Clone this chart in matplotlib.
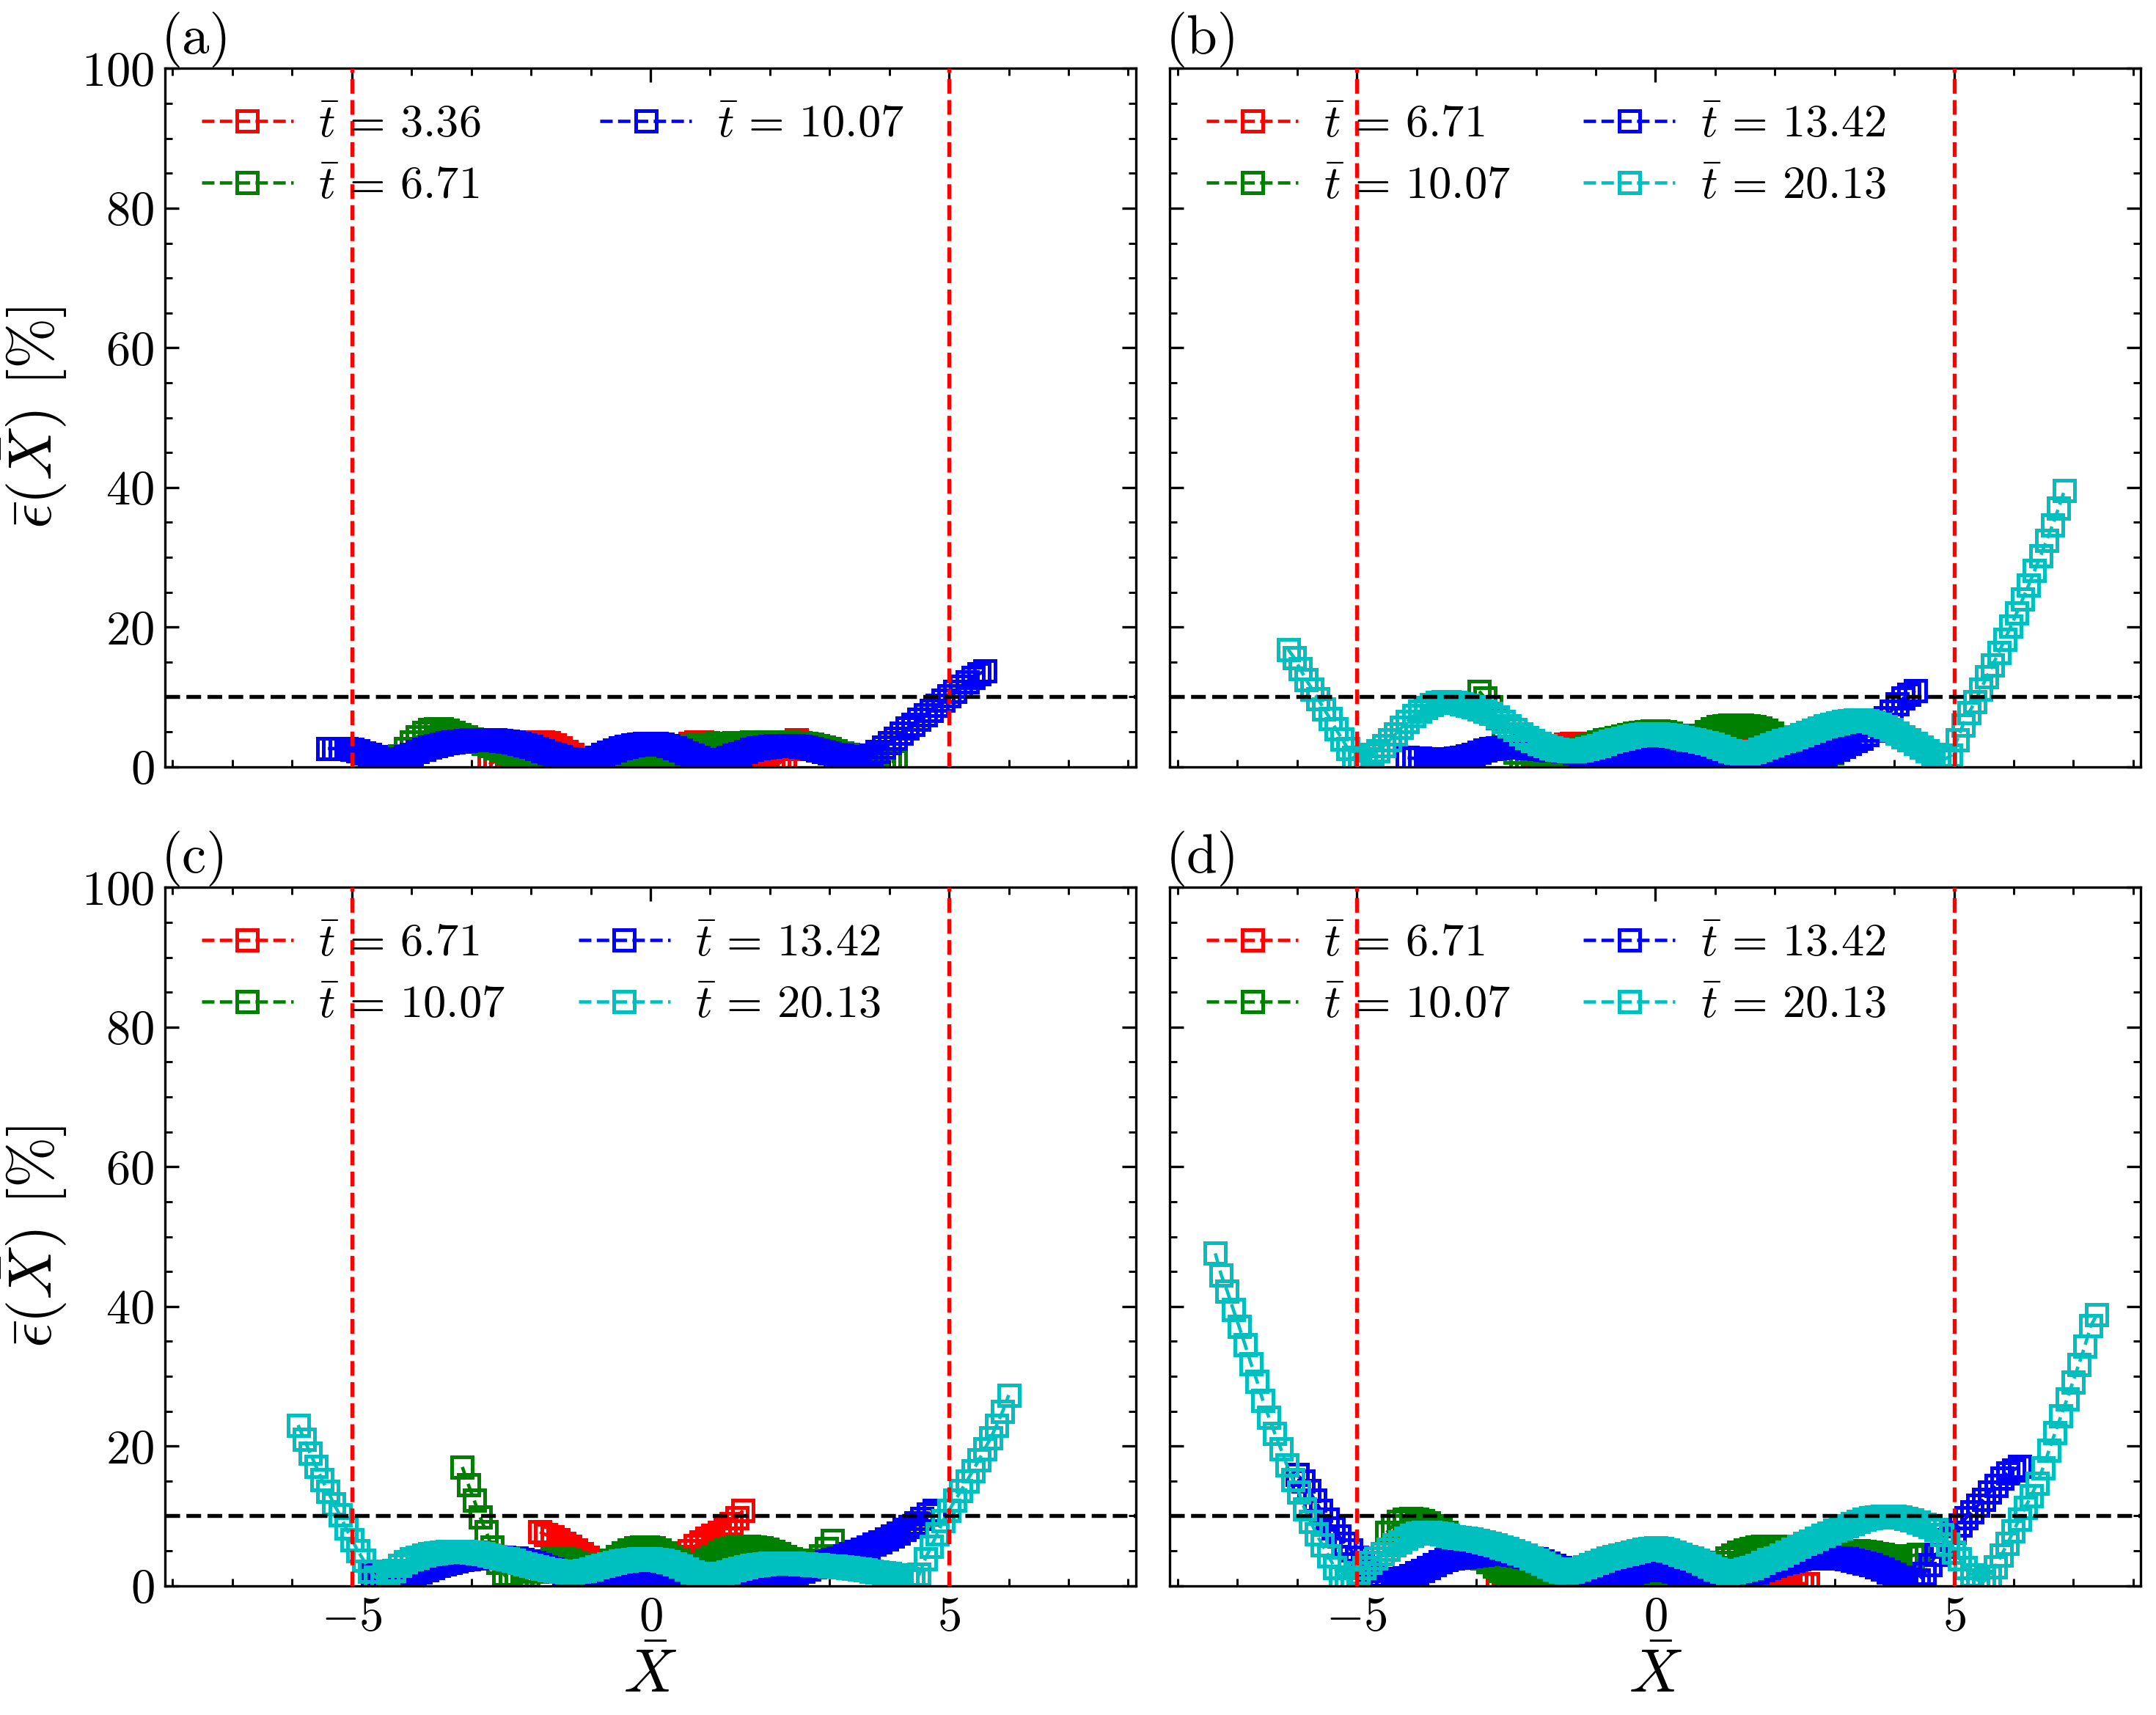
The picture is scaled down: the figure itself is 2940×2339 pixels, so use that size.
import numpy as np
import matplotlib
matplotlib.use("Agg")
import matplotlib.pyplot as plt
from matplotlib.ticker import MultipleLocator

# ---- data (x range of each series + error values in %)
COLORS = ["r", "g", "b", "c"]

A_LABELS = [r"$\bar{t}\,=\,3.36$", r"$\bar{t}\,=\,6.71$", r"$\bar{t}\,=\,10.07$"]
BCD_LABELS = [r"$\bar{t}\,=\,6.71$", r"$\bar{t}\,=\,10.07$",
              r"$\bar{t}\,=\,13.42$", r"$\bar{t}\,=\,20.13$"]

# panel (a)
A_RED_X = (-2.7, 2.45)
A_RED = [0.3, 0.8, 1.3, 1.8, 2.3, 2.7, 3.0, 3.3, 3.5, 3.5, 3.4, 3.1, 2.7, 2.2,
         1.7, 1.2, 0.8, 0.4, 0.2, 0.1, 0.2, 0.3, 0.4, 0.5, 0.5, 0.4, 0.3, 0.2,
         0.4, 0.9, 1.5, 2.1, 2.6, 3.0, 3.3, 3.5, 3.5, 3.4, 3.2, 2.9, 2.5, 2.1,
         1.7, 1.3, 0.9, 0.6, 0.4, 0.3, 0.3, 0.5, 1.2, 2.6, 3.9]
A_GREEN_X = (-4.2, 4.1)
A_GREEN = [1.5, 2.6, 3.5, 4.3, 4.9, 5.3, 5.4, 5.4, 5.2, 4.9, 4.6, 4.3, 4.0, 3.6,
           3.3, 3.0, 2.7, 2.4, 2.1, 1.8, 1.5, 1.3, 1.1, 0.9, 0.7, 0.5, 0.4, 0.3,
           0.2, 0.1, 0.2, 0.3, 0.4, 0.5, 0.5, 0.5, 0.5, 0.4, 0.4, 0.3, 0.3, 0.2,
           0.2, 0.3, 0.8, 1.4, 2.0, 2.5, 2.8, 3.0, 3.1, 3.2, 3.2, 3.3, 3.3, 3.3,
           3.4, 3.4, 3.4, 3.5, 3.5, 3.5, 3.5, 3.5, 3.5, 3.5, 3.4, 3.4, 3.3, 3.2,
           3.0, 2.8, 2.6, 2.3, 2.0, 1.7, 1.4, 1.1, 0.9, 0.7, 0.6, 0.6, 0.7, 0.8]
A_BLUE_X = (-5.4, 5.6)
A_BLUE = [2.6, 2.6, 2.6, 2.6, 2.5, 2.3, 2.0, 1.7, 1.4, 1.1, 0.9, 0.9, 1.1, 1.4,
          1.8, 2.2, 2.5, 2.8, 3.0, 3.2, 3.4, 3.5, 3.6, 3.7, 3.8, 3.8, 3.8, 3.8,
          3.8, 3.7, 3.6, 3.5, 3.3, 3.1, 2.9, 2.6, 2.3, 2.0, 1.7, 1.4, 1.1, 0.9,
          0.8, 0.8, 1.0, 1.3, 1.7, 2.1, 2.4, 2.7, 2.9, 3.1, 3.2, 3.3, 3.3, 3.3,
          3.2, 3.0, 2.7, 2.4, 2.0, 1.6, 1.3, 1.0, 0.8, 0.8, 1.0, 1.3, 1.6, 1.9,
          2.2, 2.5, 2.7, 2.8, 2.9, 3.0, 3.0, 3.0, 3.0, 2.9, 2.8, 2.6, 2.4, 2.2,
          2.0, 1.8, 1.6, 1.4, 1.3, 1.2, 1.2, 1.6, 2.2, 2.8, 3.4, 4.1, 4.8, 5.5,
          6.1, 6.8, 7.4, 8.1, 8.8, 9.5, 10.2, 10.8, 11.5, 12.2, 12.8, 13.3, 13.7]

# panel (b)
B_RED_X = (-2.0, 2.0)
B_RED = [0.8, 1.4, 2.0, 2.5, 2.9, 3.2, 3.3, 3.3, 3.2, 2.9, 2.5, 2.1, 1.7, 1.3,
         0.9, 0.6, 0.4, 0.2, 0.1, 0.1, 0.1, 0.1, 0.2, 0.3, 0.5, 0.8, 1.2, 1.6,
         2.0, 2.4, 2.8, 3.1, 3.3, 3.4, 3.4, 3.3, 3.0, 2.6, 2.1, 1.6, 1.1]
B_GREEN_X = (-2.95, 2.95)
B_GREEN = [10.8, 9.8, 8.6, 7.0, 5.3, 3.6, 2.1, 1.0, 0.5, 0.4, 0.5, 0.7, 1.0, 1.3,
           1.6, 2.0, 2.3, 2.6, 2.9, 3.2, 3.5, 3.8, 4.0, 4.2, 4.4, 4.6, 4.8, 4.9,
           5.0, 5.1, 5.1, 5.0, 4.8, 4.5, 4.2, 4.0, 4.1, 4.5, 5.0, 5.4, 5.7, 5.9,
           6.0, 6.0, 6.0, 5.9, 5.7, 5.5, 5.2, 4.8, 4.3, 3.8, 3.3, 2.9, 2.5, 2.2,
           2.0, 1.9, 1.9, 2.0]
B_BLUE_X = (-4.15, 4.35)
B_BLUE = [1.3, 1.2, 1.2, 1.1, 1.1, 1.1, 1.1, 1.1, 1.2, 1.3, 1.5, 1.8, 2.1, 2.4,
          2.6, 2.7, 2.8, 2.8, 2.8, 2.8, 2.7, 2.7, 2.6, 2.5, 2.4, 2.4, 2.3, 2.2,
          2.0, 1.7, 1.3, 0.9, 0.5, 0.3, 0.5, 0.8, 1.1, 1.3, 1.5, 1.6, 1.7, 1.7,
          1.7, 1.6, 1.5, 1.3, 1.1, 0.8, 0.5, 0.3, 0.1, 0.1, 0.1, 0.1, 0.1, 0.1,
          0.1, 0.2, 0.3, 0.4, 0.5, 0.6, 0.7, 0.8, 0.9, 1.0, 1.1, 1.2, 1.4, 1.6,
          1.9, 2.2, 2.5, 2.9, 3.3, 3.7, 4.1, 4.6, 5.2, 6.0, 7.0, 8.0, 9.0, 9.8,
          10.4, 10.9]
B_CYAN_X = (-6.15, 6.85)
B_CYAN = [16.8, 15.6, 14.0, 12.5, 11.1, 9.7, 8.3, 6.9, 5.4, 4.0, 2.6, 1.3, 0.8,
          1.1, 1.7, 2.3, 3.0, 3.8, 4.7, 5.6, 6.5, 7.3, 8.0, 8.5, 8.9, 9.2, 9.3,
          9.3, 9.2, 9.0, 8.8, 8.6, 8.3, 8.0, 7.6, 7.1, 6.5, 5.9, 5.3, 4.7, 4.2,
          3.7, 3.3, 3.0, 2.7, 2.5, 2.4, 2.3, 2.3, 2.4, 2.6, 2.8, 3.0, 3.3, 3.6,
          3.9, 4.1, 4.3, 4.5, 4.6, 4.7, 4.7, 4.7, 4.6, 4.5, 4.4, 4.2, 4.0, 3.8,
          3.6, 3.4, 3.2, 2.9, 2.6, 2.3, 2.1, 2.0, 2.0, 2.2, 2.5, 2.8, 3.1, 3.4,
          3.7, 4.0, 4.3, 4.6, 4.9, 5.2, 5.5, 5.8, 6.1, 6.3, 6.5, 6.6, 6.7, 6.7,
          6.6, 6.4, 6.1, 5.7, 5.3, 4.8, 4.3, 3.8, 3.3, 2.8, 2.3, 1.8, 1.4, 1.1,
          1.6, 3.8, 6.0, 7.7, 9.3, 11.1, 12.9, 14.6, 16.4, 18.2, 20.1, 22.0,
          24.0, 26.0, 28.1, 30.2, 32.4, 34.6, 37.0, 39.6]

# panel (c)
C_RED_X = (-1.85, 1.55)
C_RED = [7.7, 7.3, 7.0, 6.6, 6.1, 5.6, 5.1, 4.6, 4.1, 3.6, 3.1, 2.5, 2.0, 1.5,
         1.1, 0.7, 0.4, 0.2, 0.1, 0.2, 0.6, 1.3, 2.2, 3.2, 4.2, 5.0, 5.7, 6.3,
         6.8, 7.2, 7.6, 8.2, 8.9, 9.7, 10.8]
C_GREEN_X = (-3.15, 3.05)
C_GREEN = [17.0, 14.5, 12.2, 9.8, 7.7, 5.5, 3.3, 1.6, 0.7, 0.5, 0.8, 1.4, 2.1,
           2.8, 3.4, 3.8, 3.9, 3.8, 3.6, 3.3, 3.0, 2.8, 2.7, 2.8, 3.1, 3.6, 4.2,
           4.7, 5.1, 5.4, 5.5, 5.5, 5.4, 5.1, 4.7, 4.2, 3.6, 3.1, 2.8, 2.8, 3.1,
           3.6, 4.2, 4.7, 5.1, 5.4, 5.5, 5.6, 5.6, 5.5, 5.4, 5.2, 4.9, 4.6, 4.2,
           3.8, 3.5, 3.3, 3.3, 3.6, 4.3, 5.3, 6.5]
C_BLUE_X = (-4.65, 4.75)
C_BLUE = [1.5, 1.0, 0.7, 0.6, 0.8, 1.1, 1.4, 1.7, 2.0, 2.3, 2.6, 2.9, 3.1, 3.3,
          3.5, 3.7, 3.8, 3.9, 4.0, 4.1, 4.1, 4.1, 4.1, 4.0, 3.9, 3.7, 3.5, 3.3,
          3.0, 2.7, 2.4, 2.1, 1.8, 1.5, 1.2, 0.9, 0.7, 0.5, 0.4, 0.4, 0.5, 0.7,
          0.9, 1.1, 1.3, 1.4, 1.5, 1.5, 1.4, 1.3, 1.1, 0.9, 0.7, 0.5, 0.3, 0.2,
          0.2, 0.3, 0.4, 0.6, 0.7, 0.9, 1.0, 1.1, 1.2, 1.3, 1.4, 1.5, 1.5, 1.6,
          1.7, 1.9, 2.1, 2.4, 2.7, 3.0, 3.4, 3.7, 4.0, 4.3, 4.6, 4.9, 5.2, 5.5,
          5.9, 6.3, 6.7, 7.1, 7.5, 8.0, 8.5, 9.0, 9.6, 10.3, 10.8]
C_CYAN_X = (-5.9, 6.0)
C_CYAN = [23.0, 21.0, 19.0, 17.1, 15.2, 13.5, 11.7, 10.1, 8.3, 6.6, 5.0, 3.6,
          2.1, 1.2, 1.1, 1.6, 2.2, 2.9, 3.4, 3.8, 4.1, 4.4, 4.6, 4.7, 4.8, 4.9,
          4.9, 4.9, 4.9, 4.8, 4.7, 4.6, 4.4, 4.2, 4.0, 3.8, 3.6, 3.3, 3.1, 2.9,
          2.7, 2.5, 2.3, 2.2, 2.1, 2.0, 2.0, 2.1, 2.2, 2.4, 2.7, 2.9, 3.1, 3.3,
          3.5, 3.6, 3.7, 3.8, 3.8, 3.8, 3.7, 3.6, 3.4, 3.1, 2.8, 2.4, 2.0, 1.7,
          1.5, 1.4, 1.5, 1.7, 2.0, 2.3, 2.5, 2.7, 2.9, 3.0, 3.1, 3.2, 3.2, 3.2,
          3.2, 3.2, 3.1, 3.1, 3.0, 3.0, 2.9, 2.8, 2.8, 2.7, 2.6, 2.5, 2.4, 2.3,
          2.1, 2.0, 1.9, 1.7, 1.5, 1.3, 1.0, 0.8, 1.6, 3.8, 5.6, 7.4, 9.3, 10.8,
          12.2, 13.6, 15.0, 16.5, 18.0, 19.6, 21.2, 23.0, 25.0, 27.3]

# panel (d)
D_RED_X = (-2.65, 2.55)
D_RED = [0.3, 0.4, 0.6, 0.8, 1.0, 1.2, 1.4, 1.5, 1.6, 1.6, 1.5, 1.4, 1.2, 1.0,
         0.8, 0.6, 0.4, 0.3, 0.2, 0.2, 0.3, 0.4, 0.5, 0.5, 0.5, 0.4, 0.3, 0.3,
         0.4, 0.5, 0.5, 0.5, 0.4, 0.3, 0.2, 0.2, 0.3, 0.4, 0.6, 0.8, 1.0, 1.2,
         1.4, 1.5, 1.6, 1.6, 1.5, 1.3, 1.0, 0.7, 0.5, 0.3, 0.3]
D_GREEN_X = (-4.5, 4.4)
D_GREEN = [7.6, 8.6, 9.2, 9.5, 9.6, 9.5, 9.3, 9.0, 8.6, 8.1, 7.6, 7.0, 6.4, 5.8,
           5.2, 4.6, 4.0, 3.4, 2.8, 2.2, 1.7, 1.2, 0.8, 0.5, 0.3, 0.3, 0.4, 0.6,
           0.8, 1.0, 1.2, 1.3, 1.3, 1.2, 1.0, 0.8, 0.6, 0.5, 0.5, 0.6, 0.7, 0.8,
           0.9, 1.0, 1.1, 1.1, 1.1, 1.0, 0.9, 0.8, 0.7, 0.7, 0.9, 1.3, 1.9, 2.6,
           3.3, 3.9, 4.4, 4.8, 5.1, 5.3, 5.5, 5.6, 5.6, 5.6, 5.5, 5.4, 5.2, 5.0,
           4.8, 4.7, 4.6, 4.6, 4.7, 4.8, 4.9, 5.0, 5.0, 5.0, 4.9, 4.8, 4.6, 4.5,
           4.3, 4.2, 4.2, 4.2, 4.3, 4.5]
D_BLUE_X = (-6.0, 6.1)
D_BLUE = [15.9, 15.0, 13.6, 12.2, 10.8, 9.5, 8.3, 7.1, 6.1, 5.1, 4.1, 3.1, 2.2,
          1.5, 1.0, 0.8, 0.8, 0.9, 1.1, 1.4, 1.8, 2.2, 2.6, 3.0, 3.4, 3.7, 3.9,
          4.1, 4.2, 4.3, 4.4, 4.5, 4.6, 4.6, 4.6, 4.6, 4.5, 4.4, 4.2, 4.0, 3.8,
          3.5, 3.2, 2.9, 2.6, 2.3, 2.0, 1.7, 1.4, 1.2, 1.0, 0.9, 1.0, 1.2, 1.4,
          1.7, 1.9, 2.1, 2.3, 2.4, 2.4, 2.4, 2.3, 2.1, 1.9, 1.6, 1.3, 1.0, 0.7,
          0.5, 0.3, 0.2, 0.3, 0.5, 0.8, 1.2, 1.6, 2.0, 2.3, 2.6, 2.9, 3.2, 3.4,
          3.6, 3.8, 3.9, 4.0, 4.0, 4.1, 4.1, 4.0, 3.9, 3.8, 3.6, 3.4, 3.2, 3.0,
          2.7, 2.4, 2.0, 1.6, 1.2, 0.9, 0.7, 0.8, 1.7, 3.0, 4.5, 5.6, 6.6, 7.6,
          8.7, 9.7, 10.6, 11.5, 12.4, 13.4, 14.4, 15.4, 16.1, 16.6, 17.1]
D_CYAN_X = (-7.37, 7.39)
D_CYAN = [47.6, 44.5, 42.2, 39.6, 37.1, 34.5, 31.8, 29.3, 26.5, 24.1,
          21.8, 19.6, 17.3, 15.2, 13.4, 11.0, 9.2, 7.4, 5.8, 4.3,
          2.6, 1.2, 0.7, 1.2, 1.8, 2.6, 3.3, 4.0, 4.6, 5.2,
          5.8, 6.3, 6.8, 7.2, 7.5, 7.6, 7.6, 7.5, 7.4, 7.2,
          7.0, 6.9, 6.8, 6.7, 6.5, 6.3, 6.0, 5.8, 5.5, 5.3,
          5.0, 4.7, 4.4, 4.0, 3.6, 3.2, 2.8, 2.4, 2.1, 2.0,
          2.1, 2.4, 2.7, 3.0, 3.3, 3.6, 3.9, 4.2, 4.4, 4.6,
          4.8, 5.0, 5.2, 5.3, 5.4, 5.3, 5.1, 4.8, 4.5, 4.2,
          3.9, 3.6, 3.2, 2.8, 2.4, 2.1, 1.9, 2.0, 2.2, 2.4,
          2.6, 2.9, 3.3, 3.7, 4.0, 4.4, 4.8, 5.2, 5.6, 6.0,
          6.4, 6.8, 7.2, 7.5, 7.9, 8.3, 8.6, 8.9, 9.2, 9.5,
          9.7, 9.8, 9.9, 9.9, 9.9, 9.8, 9.6, 9.4, 9.1, 8.8,
          8.5, 8.1, 7.3, 5.9, 4.8, 3.8, 2.6, 1.5, 0.8, 0.6,
          1.3, 2.7, 4.4, 6.0, 7.8, 9.5, 11.2, 12.9, 14.7, 16.9,
          19.4, 21.9, 24.3, 26.7, 29.2, 31.7, 34.3, 37.2, 38.8]

PANELS = [
    ("(a)", [(A_RED_X, A_RED), (A_GREEN_X, A_GREEN), (A_BLUE_X, A_BLUE)], A_LABELS),
    ("(b)", [(B_RED_X, B_RED), (B_GREEN_X, B_GREEN), (B_BLUE_X, B_BLUE),
             (B_CYAN_X, B_CYAN)], BCD_LABELS),
    ("(c)", [(C_RED_X, C_RED), (C_GREEN_X, C_GREEN), (C_BLUE_X, C_BLUE),
             (C_CYAN_X, C_CYAN)], BCD_LABELS),
    ("(d)", [(D_RED_X, D_RED), (D_GREEN_X, D_GREEN), (D_BLUE_X, D_BLUE),
             (D_CYAN_X, D_CYAN)], BCD_LABELS),
]

X_EDGE = 5.0
EPS_LEVEL = 10.0

plt.rcParams.update({
    "font.family": "serif",
    "font.serif": ["cmr10"],
    "mathtext.fontset": "cm",
    "axes.formatter.use_mathtext": True,
    "font.size": 16,
    "axes.linewidth": 0.8,
    "xtick.direction": "in",
    "ytick.direction": "in",
    "xtick.top": True,
    "ytick.right": True,
    "xtick.major.size": 4.5,
    "ytick.major.size": 4.5,
    "xtick.minor.size": 2.5,
    "ytick.minor.size": 2.5,
    "xtick.major.width": 0.8,
    "ytick.major.width": 0.8,
    "xtick.minor.width": 0.7,
    "ytick.minor.width": 0.7,
})

fig, axs = plt.subplots(2, 2, figsize=(9.8, 7.797), dpi=300, sharex=True, sharey=True)
fig.subplots_adjust(left=0.0765, right=0.993, top=0.96, bottom=0.0754,
                    wspace=0.035, hspace=0.173)

for ax, (tag, series, labels) in zip(axs.flat, PANELS):
    for (rng, vals), lab, col in zip(series, labels, COLORS):
        x = np.linspace(rng[0], rng[1], len(vals))
        ax.plot(x, vals, "--", color=col, lw=1.1, marker="s", ms=6.5,
                mfc="none", mew=1.2, label=lab)
    ax.axvline(-X_EDGE, color="r", ls="--", lw=1.3, zorder=5)
    ax.axvline(X_EDGE, color="r", ls="--", lw=1.3, zorder=5)
    ax.axhline(EPS_LEVEL, color="k", ls="--", lw=1.3, zorder=5)
    ax.text(-0.004, 1.002, tag, transform=ax.transAxes, ha="left", va="bottom",
            fontsize=18)
    ax.legend(loc="upper left", ncol=2, frameon=False, fontsize=15,
              handlelength=2.0, handletextpad=0.55, borderaxespad=0.4,
              labelspacing=0.45,
              columnspacing=2.6 if tag == "(a)" else 1.6)
    ax.xaxis.set_major_locator(MultipleLocator(5))
    ax.xaxis.set_minor_locator(MultipleLocator(1))
    ax.yaxis.set_major_locator(MultipleLocator(20))
    ax.yaxis.set_minor_locator(MultipleLocator(5))

axs[0, 0].set_xlim(-8.13, 8.13)
axs[0, 0].set_ylim(0, 100)

for ax in axs[1]:
    ax.set_xlabel(r"$\bar{X}$", fontsize=20, labelpad=3)
for ax in axs[:, 0]:
    ax.set_ylabel(r"$\bar{\epsilon}(\bar{X})$ [%]", fontsize=20, labelpad=4)

fig.savefig("out.png", dpi=300)
